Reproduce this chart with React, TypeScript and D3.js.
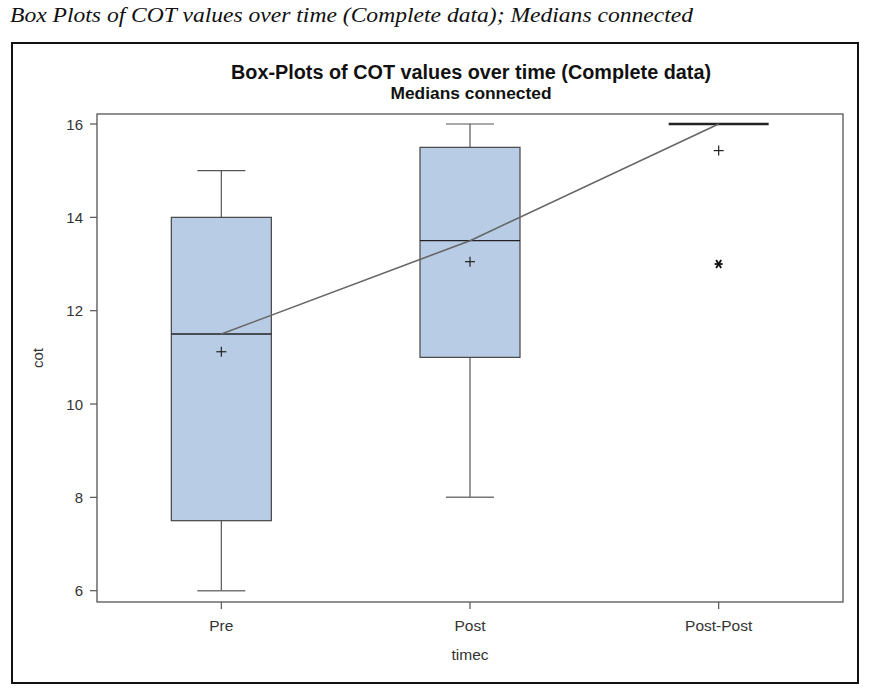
import React from "react";
import * as d3 from "d3";

const categories = ["Pre", "Post", "Post-Post"];
const minVals = [6, 8, 16];
const q1Vals = [7.5, 11, 16];
const medianVals = [11.5, 13.5, 16];
const q3Vals = [14, 15.5, 16];
const maxVals = [15, 16, 16];
const meanVals = [11.12, 13.05, 15.43];
const outliers = [{ cat: "Post-Post", value: 13 }];
const yTicks = [6, 8, 10, 12, 14, 16];

const W = 891;
const H = 694;
const plot = { left: 97, right: 843, top: 114, bottom: 602 };

export default function App() {
  const x = d3.scalePoint<string>().domain(categories).range([plot.left, plot.right]).padding(0.5);
  const y = d3.scaleLinear().domain([6, 16]).range([590.7, 124]);
  const boxW = 100;
  const capW = 48;
  const font = "Liberation Sans, Arial, sans-serif";
  const medLine = d3
    .line<number>()
    .x((_, i) => x(categories[i]) as number)
    .y((d) => y(d));

  return (
    <svg width={W} height={H} style={{ position: "absolute", left: 0, top: 0 }}>
      <rect x={0} y={0} width={W} height={H} fill="#fff" />
      <text x={10} y={22} fontFamily="Liberation Serif, Times New Roman, serif" fontStyle="italic" fontSize={21} textLength={683} lengthAdjust="spacingAndGlyphs" fill="#111">
        Box Plots of COT values over time (Complete data); Medians connected
      </text>
      <rect x={12} y={43} width={846} height={640} fill="#fff" stroke="#111" strokeWidth={2} />
      <text x={471} y={79} textAnchor="middle" fontFamily={font} fontWeight="bold" fontSize={19.5} textLength={480} lengthAdjust="spacingAndGlyphs" fill="#111">
        Box-Plots of COT values over time (Complete data)
      </text>
      <text x={471} y={99} textAnchor="middle" fontFamily={font} fontWeight="bold" fontSize={16.5} textLength={161} lengthAdjust="spacingAndGlyphs" fill="#111">
        Medians connected
      </text>
      {/* boxes */}
      {categories.map((c, i) => {
        const cx = x(c) as number;
        const collapsed = q1Vals[i] === q3Vals[i];
        return (
          <g key={c}>
            <line x1={cx} x2={cx} y1={y(q3Vals[i])} y2={y(maxVals[i])} stroke="#555" strokeWidth={1.2} />
            <line x1={cx} x2={cx} y1={y(q1Vals[i])} y2={y(minVals[i])} stroke="#555" strokeWidth={1.2} />
            {!collapsed && (
              <>
                <line x1={cx - capW / 2} x2={cx + capW / 2} y1={y(maxVals[i])} y2={y(maxVals[i])} stroke="#555" strokeWidth={1.2} />
                <line x1={cx - capW / 2} x2={cx + capW / 2} y1={y(minVals[i])} y2={y(minVals[i])} stroke="#777" strokeWidth={1.5} />
                <rect
                  x={cx - boxW / 2}
                  y={y(q3Vals[i])}
                  width={boxW}
                  height={y(q1Vals[i]) - y(q3Vals[i])}
                  fill="#b8cde5"
                  stroke="#444"
                  strokeWidth={1.2}
                />
              </>
            )}
            <line
              x1={cx - boxW / 2}
              x2={cx + boxW / 2}
              y1={y(medianVals[i])}
              y2={y(medianVals[i])}
              stroke="#222"
              strokeWidth={collapsed ? 2.5 : 1.3}
            />
          </g>
        );
      })}
      {/* median connect line */}
      <path d={medLine(medianVals) || ""} fill="none" stroke="#666" strokeWidth={1.6} />
      {/* means */}
      {categories.map((c, i) => {
        const cx = x(c) as number;
        const cy = y(meanVals[i]);
        return (
          <g key={"m" + c} stroke="#222" strokeWidth={1.2}>
            <line x1={cx - 5} x2={cx + 5} y1={cy} y2={cy} />
            <line x1={cx} x2={cx} y1={cy - 5} y2={cy + 5} />
          </g>
        );
      })}
      {/* outliers */}
      {outliers.map((o, k) => {
        const cx = x(o.cat) as number;
        const cy = y(o.value);
        return (
          <g key={"o" + k} stroke="#111" strokeWidth={1.8}>
            <line x1={cx - 4} x2={cx + 4} y1={cy} y2={cy} />
            <line x1={cx - 2.5} x2={cx + 2.5} y1={cy - 4} y2={cy + 4} />
            <line x1={cx + 2.5} x2={cx - 2.5} y1={cy - 4} y2={cy + 4} />
          </g>
        );
      })}
      {/* plot frame */}
      <rect
        x={plot.left}
        y={plot.top}
        width={plot.right - plot.left}
        height={plot.bottom - plot.top}
        fill="none"
        stroke="#555"
        strokeWidth={1.3}
      />
      {/* y axis */}
      {yTicks.map((t) => (
        <g key={t}>
          <line x1={plot.left - 7} x2={plot.left} y1={y(t)} y2={y(t)} stroke="#555" strokeWidth={1.2} />
          <text x={plot.left - 14} y={y(t) + 5.5} textAnchor="end" fontFamily={font} fontSize={15} fill="#333">
            {t}
          </text>
        </g>
      ))}
      <text
        transform={`translate(43,${(plot.top + plot.bottom) / 2}) rotate(-90)`}
        textAnchor="middle"
        fontFamily={font}
        fontSize={15}
        fill="#333"
      >
        cot
      </text>
      {/* x axis */}
      {categories.map((c) => (
        <g key={"x" + c}>
          <line x1={x(c)} x2={x(c)} y1={plot.bottom} y2={plot.bottom + 7} stroke="#555" strokeWidth={1.2} />
          <text x={x(c)} y={631} textAnchor="middle" fontFamily={font} fontSize={15.5} fill="#333">
            {c}
          </text>
        </g>
      ))}
      <text x={(plot.left + plot.right) / 2} y={660} textAnchor="middle" fontFamily={font} fontSize={15.5} fill="#333">
        timec
      </text>
    </svg>
  );
}
